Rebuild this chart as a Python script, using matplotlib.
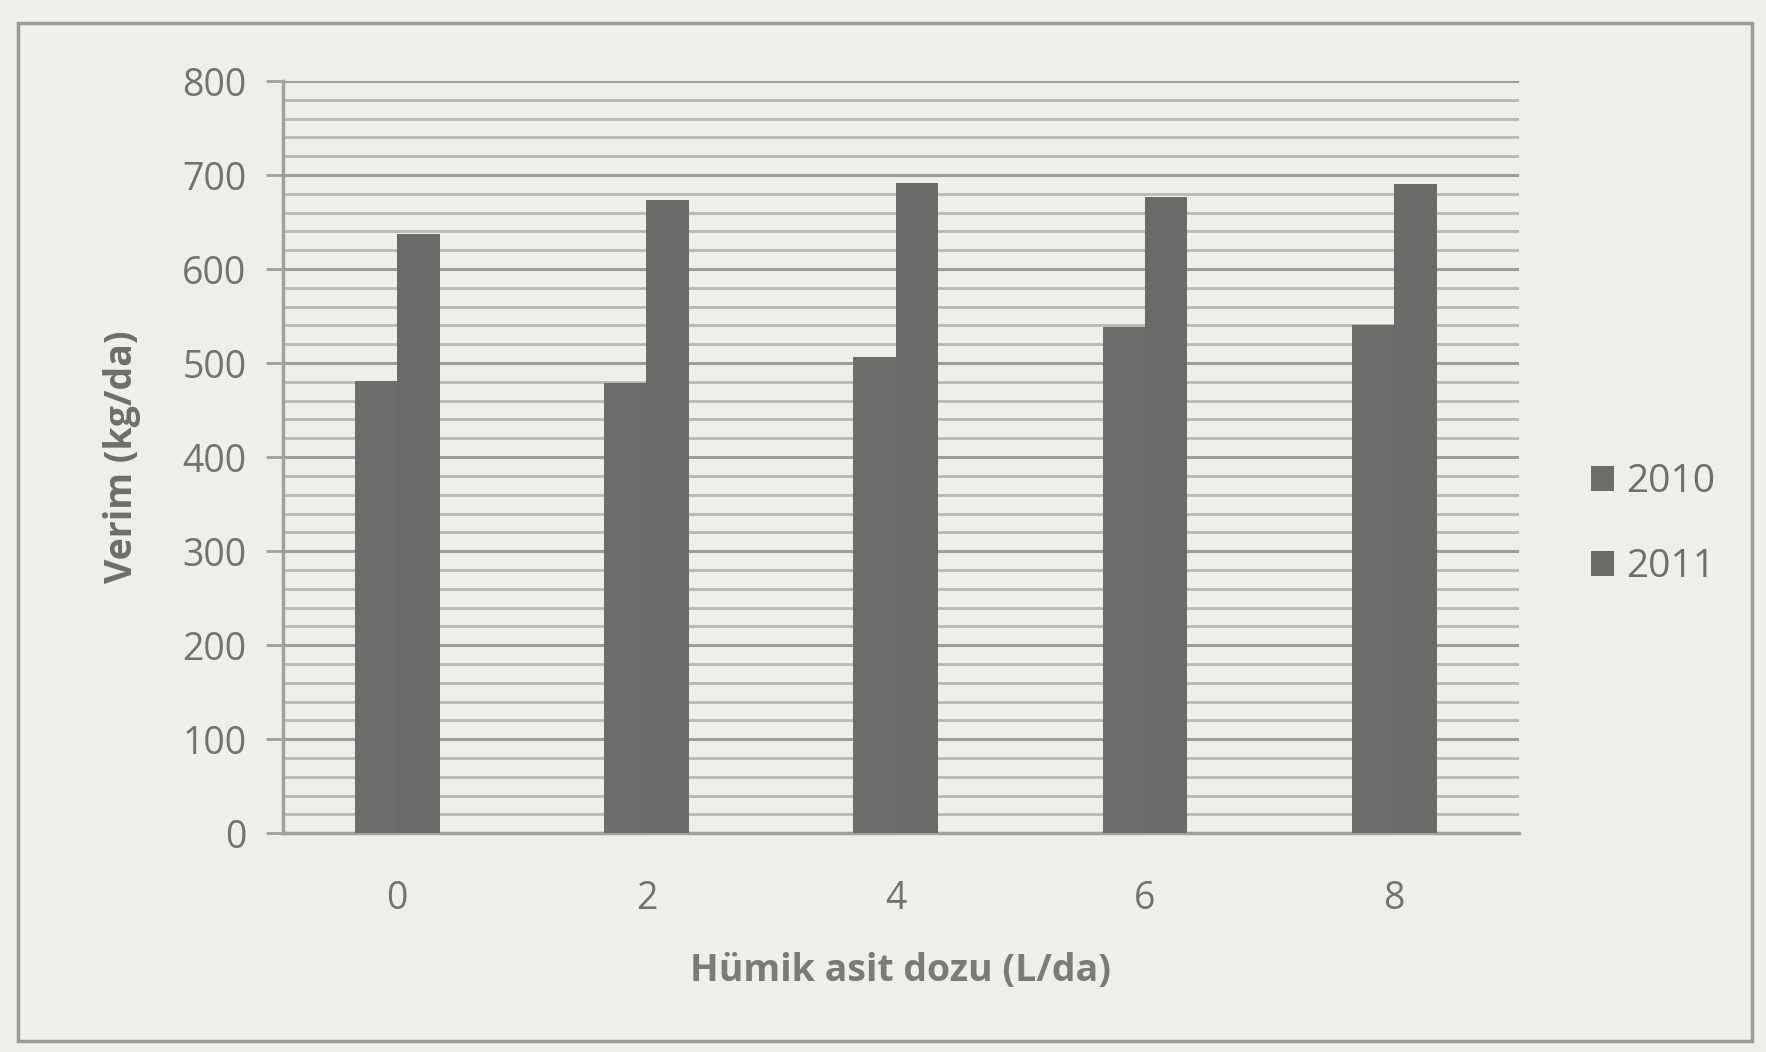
import numpy as np
import matplotlib.pyplot as plt
from matplotlib.patches import Rectangle

# veri
doz = ["0", "2", "4", "6", "8"]
verim_2010 = [481, 479, 506, 538, 540]
verim_2011 = [637, 673, 691, 677, 690]
yillar = ["2010", "2011"]

plt.rcParams['font.family'] = ['Open Sans', 'DejaVu Sans']

fig = plt.figure(figsize=(17.66, 10.52), dpi=100)
fig.patch.set_facecolor('#efeeea')

# cerceve
fig.patches.append(Rectangle((0.010, 0.010), 0.982, 0.968, transform=fig.transFigure,
                             fill=False, edgecolor='#9a9a98', linewidth=2.5))

ax = fig.add_axes([0.16, 0.208, 0.70, 0.715])
ax.set_facecolor('#efeeea')

x = np.arange(len(doz))
w = 0.17
ax.bar(x - w / 2, verim_2010, w, color='#6c6c6a', label=yillar[0], zorder=3)
ax.bar(x + w / 2, verim_2011, w, color='#6a6a68', label=yillar[1], zorder=3)

ax.set_ylim(0, 800)
ax.set_xlim(-0.46, 4.5)
ax.set_yticks(range(0, 801, 100))
ax.set_yticks(range(0, 801, 20), minor=True)
ax.yaxis.grid(True, which='major', color='#9c9c9a', linewidth=2.2, zorder=0)
ax.yaxis.grid(True, which='minor', color='#b8b8b5', linewidth=2.0, zorder=0)
ax.set_axisbelow(True)

ax.set_xticks(x)
ax.set_xticklabels(doz)

for s in ['top', 'right']:
    ax.spines[s].set_visible(False)
ax.spines['left'].set_color('#a0a09e')
ax.spines['left'].set_linewidth(2.5)
ax.spines['bottom'].set_color('#a0a09e')
ax.spines['bottom'].set_linewidth(2.5)

ax.tick_params(axis='y', which='major', length=12, width=2, color='#a0a09e',
               labelsize=27, labelcolor='#727270', pad=14)
ax.tick_params(axis='y', which='minor', length=0)
ax.tick_params(axis='x', length=0, labelsize=27, labelcolor='#727270', pad=34)

ax.set_ylabel('Verim (kg/da)', fontsize=27, fontweight='bold', color='#6e6e6c', labelpad=30)
ax.set_xlabel('Hümik asit dozu (L/da)', fontsize=27, fontweight='bold', color='#7a7a78', labelpad=24)

leg = ax.legend(loc='center left', bbox_to_anchor=(1.03, 0.41), frameon=False,
                fontsize=28, handlelength=0.6, handleheight=0.6, handletextpad=0.3,
                labelspacing=1.2, labelcolor='#6e6e6c')

plt.savefig('out.png', dpi=100, facecolor=fig.get_facecolor())
